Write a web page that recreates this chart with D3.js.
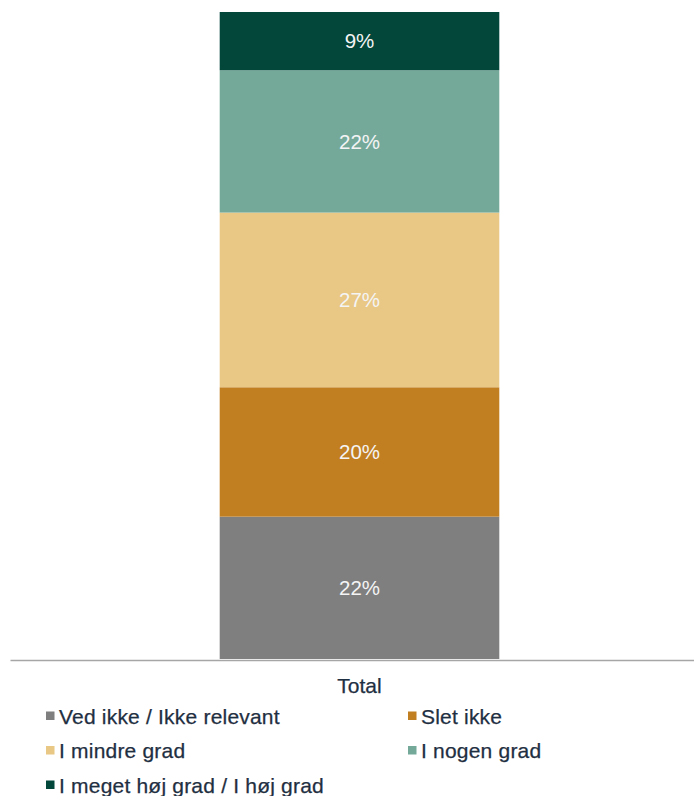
<!DOCTYPE html>
<html>
<head>
<meta charset="utf-8">
<script src="https://cdn.jsdelivr.net/npm/d3@7/dist/d3.min.js"></script>
<style>
  html, body { margin: 0; padding: 0; background: #fff; }
  svg { display: block; }
</style>
</head>
<body>
<svg id="chart" width="694" height="796"></svg>
<script>
// Survey answer shares (%) for the single "Total" column, stacked bottom to top
const categories = ["Total"];
const seriesNames = [
  "Ved ikke / Ikke relevant",
  "Slet ikke",
  "I mindre grad",
  "I nogen grad",
  "I meget høj grad / I høj grad"
];
const seriesValues = [22, 20, 27, 22, 9];
const seriesColors = ["#7f7f7f", "#c27f22", "#e9c784", "#74a99a", "#03473a"];

// Legend layout: two columns, filled row by row
const legendOrder = [0, 1, 2, 3, 4];

const width = 694, height = 796;
const svg = d3.select("#chart");
const font = "'Liberation Sans', Arial, sans-serif";

const x = d3.scaleBand()
  .domain(categories)
  .range([10, 709])
  .paddingInner(0.6)
  .paddingOuter(0.3);

const y = d3.scaleLinear()
  .domain([0, 100])
  .range([659, 12]);

// Build stacked rows
const row = { category: categories[0] };
seriesNames.forEach((n, i) => row[n] = seriesValues[i]);
const stacked = d3.stack().keys(seriesNames)([row]);

const layers = svg.append("g").selectAll("g")
  .data(stacked)
  .join("g")
  .attr("fill", (d, i) => seriesColors[i]);

layers.selectAll("rect")
  .data(d => d)
  .join("rect")
  .attr("x", d => x(d.data.category))
  .attr("width", x.bandwidth())
  .attr("y", d => y(d[1]))
  .attr("height", d => y(d[0]) - y(d[1]));

layers.selectAll("text")
  .data(d => d.map(v => ({ v, key: d.key })))
  .join("text")
  .attr("x", d => x(d.v.data.category) + x.bandwidth() / 2)
  .attr("y", d => (y(d.v[0]) + y(d.v[1])) / 2)
  .attr("dy", "0.36em")
  .attr("text-anchor", "middle")
  .attr("fill", "#f4f4f4")
  .attr("font-family", font)
  .attr("font-size", 20.5)
  .text(d => d.v.data[d.key] + "%");

// Category axis
const xAxis = d3.axisBottom(x).tickSize(0).tickPadding(18);
const axisG = svg.append("g")
  .attr("transform", `translate(0,${y(0) + 1})`)
  .call(xAxis);
axisG.select(".domain")
  .attr("stroke", "#a6a6a6")
  .attr("stroke-width", 1.6);
axisG.selectAll("text")
  .attr("fill", "#1f2f42")
  .attr("stroke", "#1f2f42")
  .attr("stroke-width", 0.25)
  .attr("font-family", font)
  .attr("font-size", 21);

// Legend
const colX = [46, 408];
const rowY0 = 716, rowStep = 34.5;
const legend = svg.append("g")
  .selectAll("g")
  .data(legendOrder)
  .join("g")
  .attr("transform", (d, i) => `translate(${colX[i % 2]},${rowY0 + Math.floor(i / 2) * rowStep})`);

legend.append("rect")
  .attr("x", 0)
  .attr("y", -4.5)
  .attr("width", 8.5)
  .attr("height", 8.5)
  .attr("fill", d => seriesColors[d]);

legend.append("text")
  .attr("x", 13)
  .attr("y", 0)
  .attr("dy", "0.36em")
  .attr("fill", "#1f2f42")
  .attr("stroke", "#1f2f42")
  .attr("stroke-width", 0.25)
  .attr("font-family", font)
  .attr("font-size", 21)
  .attr("letter-spacing", "0.2px")
  .text(d => seriesNames[d]);
</script>
</body>
</html>
